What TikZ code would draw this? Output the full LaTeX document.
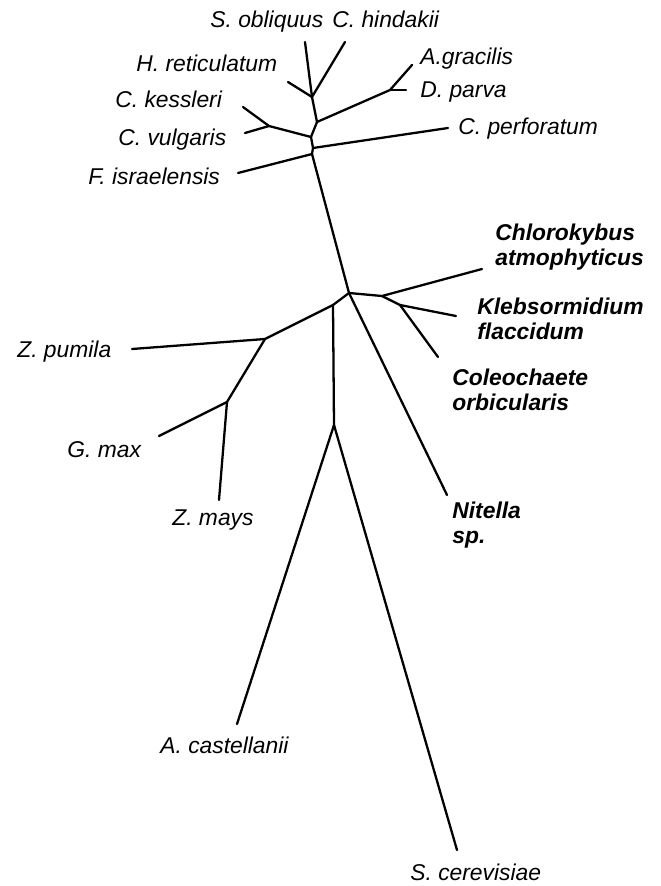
\documentclass[tikz,border=0pt]{standalone}
\usepackage{fontspec}
\setmainfont{Liberation Sans}
\usetikzlibrary{positioning}

\begin{document}
\begin{tikzpicture}[x=0.02cm, y=-0.02cm]
        % Define styles
        \tikzstyle{taxon} = [font=\fontsize{13}{14}\selectfont\itshape, inner sep=0pt, anchor=base west]
        \tikzstyle{alga} = [font=\fontsize{13}{14}\selectfont\bfseries\itshape, inner sep=0pt, anchor=base west, align=left]
        \tikzstyle{branch} = [line width=1.3pt, line cap=round, line join=round]

        \useasboundingbox (0,0) rectangle (660,886);

        % Internal nodes
        \coordinate (n1) at (312,97);
        \coordinate (n2) at (317,122);
        \coordinate (n3) at (390,90);
        \coordinate (n4) at (311,137);
        \coordinate (n5) at (269,126);
        \coordinate (n6) at (313,148);
        \coordinate (n7) at (312,154);
        \coordinate (root) at (349,293);
        \coordinate (r1) at (382,296);
        \coordinate (r2) at (400,305);
        \coordinate (l1) at (333,305);
        \coordinate (l2) at (334,425);
        \coordinate (l3) at (265,339);
        \coordinate (l4) at (227,402);

        % Branch tips
        \coordinate (sob) at (305,42);
        \coordinate (chi) at (345,42);
        \coordinate (hre) at (288,82);
        \coordinate (agr) at (412,65);
        \coordinate (dpa) at (406,90);
        \coordinate (cke) at (243,107);
        \coordinate (cvu) at (245,133);
        \coordinate (cpe) at (448,128);
        \coordinate (fis) at (238,173);
        \coordinate (chl) at (482,269);
        \coordinate (kle) at (456,316);
        \coordinate (col) at (438,357);
        \coordinate (nit) at (447,495);
        \coordinate (zpu) at (132,349);
        \coordinate (gma) at (159,436);
        \coordinate (zma) at (219,500);
        \coordinate (aca) at (237,724);
        \coordinate (sce) at (457,850);

        % Labels (multi-line ones sit on their last baseline)
        \node [taxon] (Tsob) at (210,27) {S. obliquus};
        \node [taxon] (Tchi) at (332,27) {C. hindakii};
        \node [taxon] (Tagr) at (420,64) {A.gracilis};
        \node [taxon] (Tdpa) at (420,97) {D. parva};
        \node [taxon] (Thre) at (136,71) {H. reticulatum};
        \node [taxon] (Tcke) at (115,107) {C. kessleri};
        \node [taxon] (Tcvu) at (118,145) {C. vulgaris};
        \node [taxon] (Tcpe) at (458,134) {C. perforatum};
        \node [taxon] (Tfis) at (88,184) {F. israelensis};
        \node [alga] (Tchl) at (495,265) {Chlorokybus\\atmophyticus};
        \node [alga] (Tkle) at (477,339) {Klebsormidium\\flaccidum};
        \node [alga] (Tcol) at (452,410) {Coleochaete\\orbicularis};
        \node [alga] (Tnit) at (452,543) {Nitella\\sp.};
        \node [taxon] (Tzpu) at (17,357) {Z. pumila};
        \node [taxon] (Tgma) at (67,457) {G. max};
        \node [taxon] (Tzma) at (172,525) {Z. mays};
        \node [taxon] (Taca) at (160,753) {A. castellanii};
        \node [taxon] (Tsce) at (410,880) {S. cerevisiae};

        % Edges
        \draw [branch] (sob) -- (n1) -- (chi);
        \draw [branch] (hre) -- (n1) -- (n2) -- (n4) -- (n6) -- (n7) -- (root);
        \draw [branch] (n2) -- (n3) -- (agr);
        \draw [branch] (n3) -- (dpa);
        \draw [branch] (n4) -- (n5) -- (cke);
        \draw [branch] (n5) -- (cvu);
        \draw [branch] (n6) -- (cpe);
        \draw [branch] (n7) -- (fis);
        \draw [branch] (root) -- (r1) -- (chl);
        \draw [branch] (r1) -- (r2) -- (kle);
        \draw [branch] (r2) -- (col);
        \draw [branch] (root) -- (nit);
        \draw [branch] (root) -- (l1) -- (l2) -- (aca);
        \draw [branch] (l2) -- (sce);
        \draw [branch] (l1) -- (l3) -- (zpu);
        \draw [branch] (l3) -- (l4) -- (gma);
        \draw [branch] (l4) -- (zma);
    \end{tikzpicture}
\end{document}
